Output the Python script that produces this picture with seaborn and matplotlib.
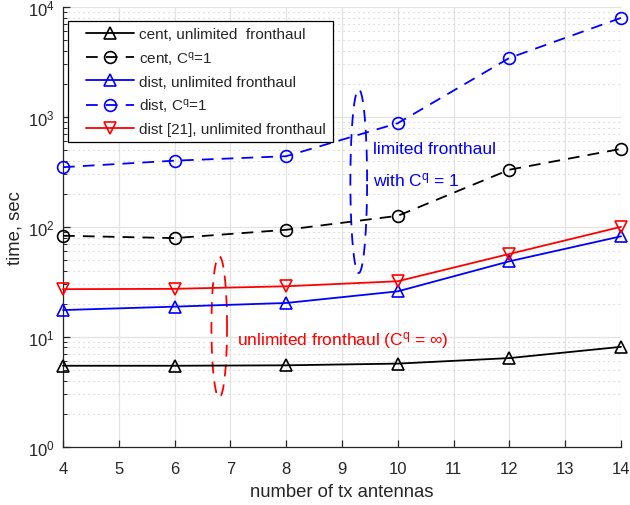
import numpy as np
import pandas as pd
import matplotlib
matplotlib.use("Agg")
import matplotlib.pyplot as plt
from matplotlib.lines import Line2D
from matplotlib.legend_handler import HandlerLine2D
from matplotlib.ticker import LogLocator, FixedLocator, NullFormatter
import seaborn as sns

# Number of transmit antennas
antennas = [4, 6, 8, 10, 12, 14]

# Run time (sec) for each scheme
cent_unlimited = [5.45, 5.45, 5.5, 5.7, 6.4, 8.1]
cent_cq1 = [83, 79, 94, 126, 331, 512]
dist_unlimited = [17.5, 18.8, 20.3, 25.9, 48.6, 82]
dist_cq1 = [349, 400, 439, 877, 3440, 7960]
dist21_unlimited = [27.1, 27.3, 28.8, 32.0, 56.7, 100]

series_labels = [
    "cent, unlimited  fronthaul",
    "cent, C$^{q}$=1",
    "dist, unlimited fronthaul",
    "dist, C$^{q}$=1",
    "dist [21], unlimited fronthaul",
]

sns.set_theme(style="white")
plt.rcParams["font.family"] = ["Liberation Sans", "DejaVu Sans"]
plt.rcParams["mathtext.default"] = "regular"

fig = plt.figure(figsize=(6.3, 5.06), dpi=100)
ax = fig.add_axes([63 / 630, 1 - 447.7 / 506, (621 - 63) / 630, (447.7 - 8) / 506])

styles = [
    (cent_unlimited, "black", "^", "-"),
    (cent_cq1, "black", "o", "--"),
    (dist_unlimited, "#0000ff", "^", "-"),
    (dist_cq1, "#0000ff", "o", "--"),
    (dist21_unlimited, "#ff0000", "v", "-"),
]

for (vals, color, marker, ls), label in zip(styles, series_labels):
    df = pd.DataFrame({"antennas": antennas, "time": vals})
    line_kws = dict(color=color, marker=marker, markersize=8.5,
                    markerfacecolor="none", markeredgecolor=color,
                    markeredgewidth=1.2, linewidth=1.3, label=label,
                    clip_on=False, zorder=3)
    if ls == "--":
        line_kws["dashes"] = (6.5, 4.5)
    sns.lineplot(data=df, x="antennas", y="time", ax=ax, **line_kws)

ax.set_yscale("log")
ax.set_xlim(4, 14)
ax.set_ylim(1, 1e4)
ax.xaxis.set_major_locator(FixedLocator(range(4, 15)))
ax.yaxis.set_major_locator(LogLocator(base=10, numticks=10))
ax.yaxis.set_minor_locator(LogLocator(base=10, subs=np.arange(2, 10), numticks=20))
ax.yaxis.set_minor_formatter(NullFormatter())

ax.set_axisbelow(True)
ax.grid(True, which="major", color="#e3e3e3", linewidth=0.9, linestyle="-")
ax.grid(True, which="minor", axis="y", color="#c8c8c8", linewidth=0.8,
        linestyle=(0, (1, 3.5)))

for side in ["top", "right"]:
    ax.spines[side].set_visible(False)
for side in ["left", "bottom"]:
    ax.spines[side].set_color("#262626")
    ax.spines[side].set_linewidth(0.9)

ax.tick_params(which="both", direction="in", colors="#262626", labelsize=12,
               left=True, bottom=True)
ax.tick_params(which="major", length=5, width=0.9)
ax.tick_params(which="minor", length=3, width=0.7)
ax.tick_params(axis="x", which="major", pad=10)
ax.tick_params(axis="y", which="major", pad=6)

ax.set_xlabel("number of tx antennas", fontsize=13.3, color="#262626", labelpad=5)
ax.set_ylabel("time, sec", fontsize=13.3, color="#262626", labelpad=3)


class OffsetLineHandler(HandlerLine2D):
    """Line handler that leaves a blank gap at the left of each legend entry."""

    def __init__(self, gap, **kw):
        super().__init__(**kw)
        self.gap = gap

    def get_xdata(self, legend, xdescent, ydescent, width, height, fontsize):
        start = -xdescent + self.gap * fontsize
        end = -xdescent + width
        return [start, end], [0.5 * (start + end)]


leg = ax.legend(loc="upper left", bbox_to_anchor=(0.009, 0.968), fontsize=11,
                frameon=True, fancybox=False, edgecolor="black",
                handlelength=3.9, handletextpad=0.35, borderpad=0.42,
                labelspacing=0.5, borderaxespad=0.0,
                handler_map={Line2D: OffsetLineHandler(gap=0.75)})
leg.get_frame().set_linewidth(0.9)
leg.get_frame().set_facecolor("white")
leg.get_frame().set_alpha(1.0)
leg.set_zorder(5)

# Dashed ellipses grouping the curves
t = np.linspace(0, 2 * np.pi, 300)


def log_ellipse(cx, half_w, y_lo, y_hi, color):
    cy = (np.log10(y_lo) + np.log10(y_hi)) / 2
    hy = (np.log10(y_hi) - np.log10(y_lo)) / 2
    ax.plot(cx + half_w * np.cos(t), 10 ** (cy + hy * np.sin(t)),
            color=color, linewidth=1.3, dashes=(6.5, 4.5))


log_ellipse(9.3, 0.15, 38, 1780, "#0000ff")
log_ellipse(6.8, 0.14, 2.8, 54, "#ff0000")

ax.text(9.56, 512, "limited fronthaul", color="#0000ff", fontsize=12.5,
        va="center", ha="left")
ax.text(9.56, 273, "with C$^{q}$ = 1", color="#0000ff", fontsize=12.5,
        va="center", ha="left")
ax.text(7.11, 9.35, "unlimited fronthaul (C$^{q}$ = $\\infty$)", color="#ff0000",
        fontsize=12.5, va="center", ha="left")

fig.savefig("out.png", dpi=100)
